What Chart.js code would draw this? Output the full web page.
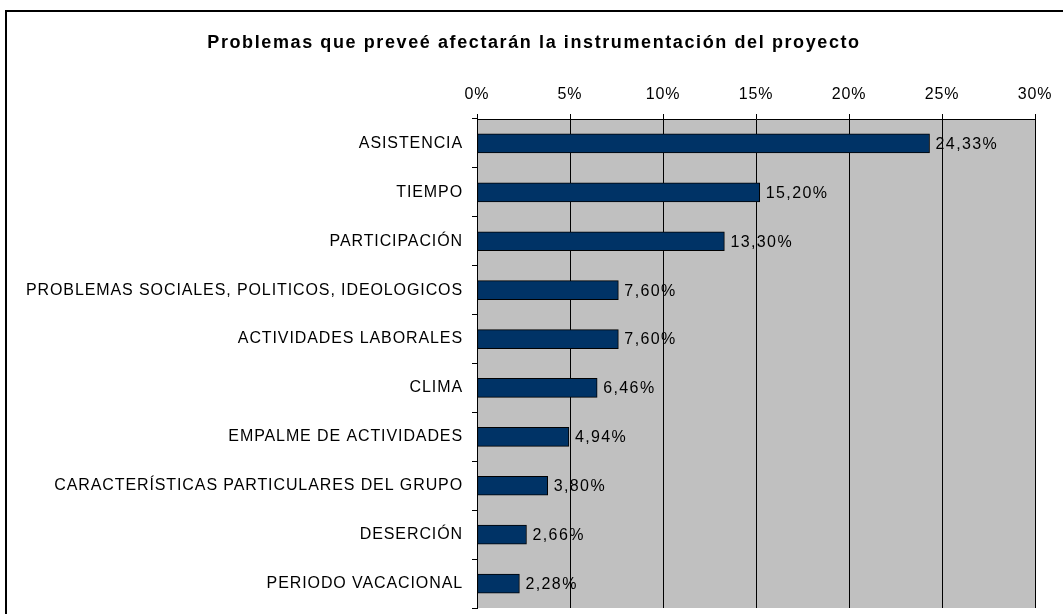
<!DOCTYPE html>
<html>
<head>
<meta charset="utf-8">
<script src="https://cdn.jsdelivr.net/npm/chart.js@4"></script>
<style>
  body { margin: 0; background: #fff; overflow: hidden; }
  #wrap { width: 1063px; height: 614px; }
</style>
</head>
<body>
<div id="wrap"><canvas id="grafico"></canvas></div>
<script>
"use strict";

// Datos del gráfico
const categorias = [
    'ASISTENCIA',
    'TIEMPO',
    'PARTICIPACIÓN',
    'PROBLEMAS SOCIALES, POLITICOS, IDEOLOGICOS',
    'ACTIVIDADES LABORALES',
    'CLIMA',
    'EMPALME DE ACTIVIDADES',
    'CARACTERÍSTICAS PARTICULARES DEL GRUPO',
    'DESERCIÓN',
    'PERIODO VACACIONAL'
];
const porcentajes = [24.33, 15.20, 13.30, 7.60, 7.60, 6.46, 4.94, 3.80, 2.66, 2.28];
const titulo = 'Problemas que preveé afectarán la instrumentación del proyecto';

const fuente = '"Liberation Sans", Arial, sans-serif';

function formato(v) {
    return v.toFixed(2).replace('.', ',') + '%';
}

// Marco exterior, fondo gris y espaciado de letras
const fondo = {
    id: 'fondo',
    beforeDraw(chart) {
        const { ctx, chartArea } = chart;
        ctx.letterSpacing = '0.9px';
        ctx.save();
        ctx.fillStyle = '#c0c0c0';
        ctx.fillRect(chartArea.left, chartArea.top, chartArea.right - chartArea.left, chartArea.bottom - chartArea.top);
        ctx.strokeStyle = '#000';
        ctx.lineWidth = 2;
        ctx.strokeRect(6, 11, 1200, 800);
        ctx.restore();
    }
};

// Título y etiquetas de valor al final de cada barra
const etiquetas = {
    id: 'etiquetas',
    afterDatasetsDraw(chart) {
        const { ctx } = chart;
        const meta = chart.getDatasetMeta(0);
        ctx.save();
        ctx.font = '16px ' + fuente;
        ctx.letterSpacing = '1.4px';
        ctx.fillStyle = '#000';
        ctx.textAlign = 'left';
        ctx.textBaseline = 'middle';
        meta.data.forEach((bar, i) => {
            ctx.fillText(formato(porcentajes[i]), bar.x + 6, bar.y + 1);
        });

        ctx.font = 'bold 18px ' + fuente;
        ctx.letterSpacing = '1.6px';
        ctx.textAlign = 'center';
        ctx.fillText(titulo, 534, 43);
        ctx.restore();
    }
};

new Chart(document.getElementById('grafico').getContext('2d'), {
    type: 'bar',
    data: {
        labels: categorias,
        datasets: [{
            label: 'Porcentaje',
            data: porcentajes,
            backgroundColor: '#003366',
            borderColor: '#000',
            borderWidth: 1,
            borderSkipped: false,
            barThickness: 19
        }]
    },
    options: {
        indexAxis: 'y',
        responsive: true,
        maintainAspectRatio: false,
        animation: false,
        layout: { padding: { left: 0, right: 28, top: 60, bottom: 6 } },
        plugins: {
            legend: { display: false },
            tooltip: { enabled: false },
            title: { display: false }
        },
        scales: {
            x: {
                position: 'top',
                min: 0,
                max: 30,
                afterFit(scale) { scale.height = 59; },
                ticks: {
                    stepSize: 5,
                    color: '#000',
                    padding: 10,
                    font: { family: fuente, size: 16 },
                    callback: v => v + '%'
                },
                grid: { color: '#000', lineWidth: 1, tickLength: 5 },
                border: { color: '#000' }
            },
            y: {
                afterFit(scale) {
                    scale.width = 477;
                    scale.paddingTop = 0;
                    scale.paddingBottom = 0;
                },
                ticks: {
                    color: '#000',
                    padding: 9,
                    font: { family: fuente, size: 16 }
                },
                grid: { drawOnChartArea: false, color: '#000', tickLength: 5, offset: true },
                border: { color: '#000' }
            }
        }
    },
    plugins: [fondo, etiquetas]
});
</script>
</body>
</html>
